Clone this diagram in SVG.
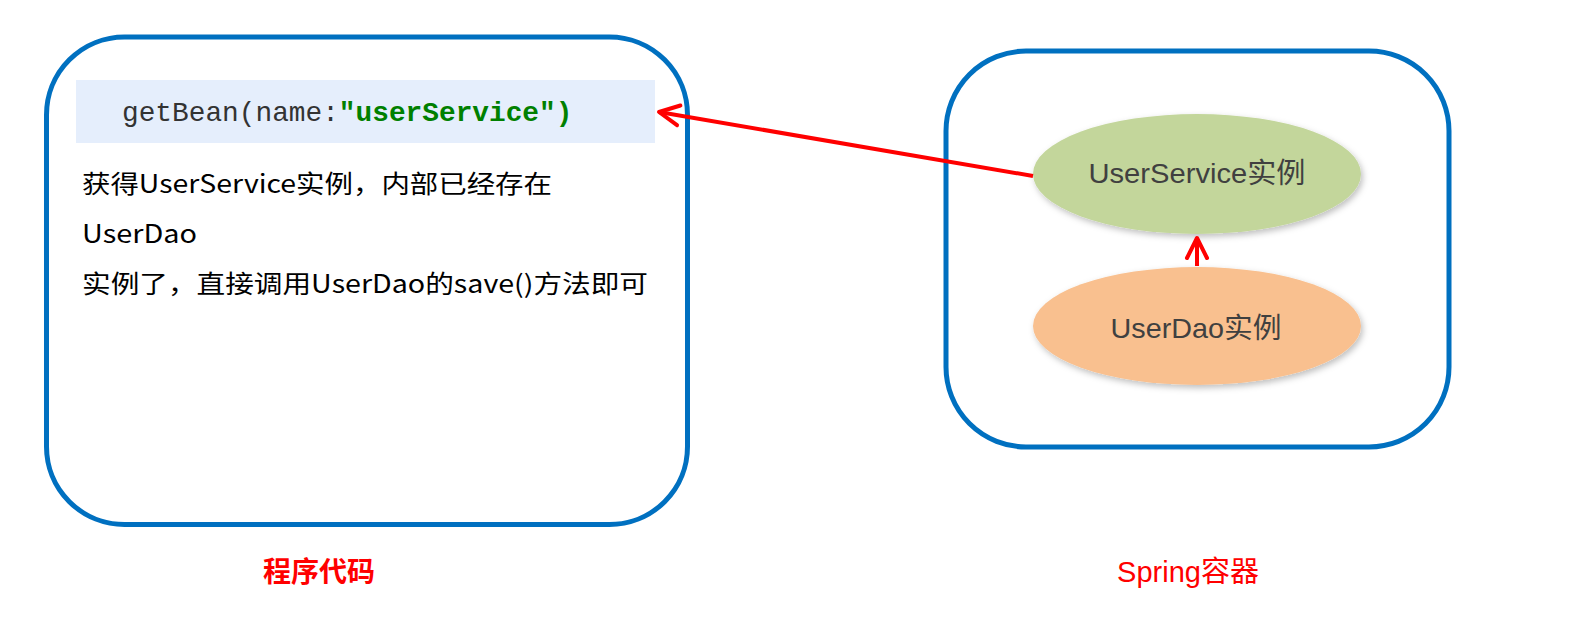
<svg xmlns="http://www.w3.org/2000/svg" width="1570" height="636" viewBox="0 0 1570 636">
<style>
.box{fill:#fff;stroke:#0070C0;stroke-width:5}
.conn{stroke:#FF0000;stroke-width:4;fill:none}
.body{font-family:"Noto Sans CJK SC","Liberation Sans",sans-serif;font-size:25px;fill:#000}
.code{font-family:"Liberation Mono",monospace;font-size:27.8px}
.lbl{font-family:"Liberation Sans","Noto Sans CJK SC",sans-serif;font-size:28.5px;fill:#404040;text-anchor:middle}
.cap{font-family:"Liberation Sans","Noto Sans CJK SC",sans-serif;fill:#FF0000;text-anchor:middle}
</style>
<defs>
<marker id="arrow" viewBox="-24 -13 28 26" markerWidth="28" markerHeight="26" refX="0" refY="0" orient="auto" markerUnits="userSpaceOnUse">
<path d="M-20,-10 L0,0 L-20,10" fill="none" stroke="#FF0000" stroke-width="4" stroke-linecap="round" stroke-linejoin="round"/>
</marker>
<filter id="sh" x="-10%" y="-10%" width="125%" height="135%">
<feDropShadow dx="2" dy="3" stdDeviation="3" flood-color="#000" flood-opacity="0.25"/>
</filter>
</defs>
<g id="code-box">
<rect class="box" x="46.5" y="37" width="641" height="487.5" rx="78" ry="78"/>
<rect x="76" y="80" width="579" height="63" fill="#E5EEFC"/>
<text class="code" x="122" y="121"><tspan fill="#333333">getBean(name:</tspan><tspan fill="#008000" font-weight="bold">"userService")</tspan></text>
<text class="body" x="82" y="193" textLength="470" lengthAdjust="spacingAndGlyphs">获得UserService实例，内部已经存在</text>
<text class="body" x="82" y="243" textLength="115" lengthAdjust="spacingAndGlyphs">UserDao</text>
<text class="body" x="82" y="293" textLength="566" lengthAdjust="spacingAndGlyphs">实例了，直接调用UserDao的save()方法即可</text>
</g>
<g id="spring-box">
<rect class="box" x="946" y="51" width="503" height="396" rx="80" ry="80"/>
</g>
<g id="userservice">
<ellipse cx="1197" cy="174" rx="164" ry="60" fill="#C3D69B" filter="url(#sh)"/>
<text class="lbl" x="1197" y="183" textLength="217" lengthAdjust="spacingAndGlyphs">UserService实例</text>
</g>
<g id="userdao">
<ellipse cx="1197" cy="326" rx="164" ry="59" fill="#F9C08F" filter="url(#sh)"/>
<text class="lbl" x="1196" y="338" textLength="171" lengthAdjust="spacingAndGlyphs">UserDao实例</text>
</g>
<g id="connectors">
<line class="conn" x1="1033" y1="176" x2="659" y2="112" marker-end="url(#arrow)"/>
<line class="conn" x1="1197" y1="266" x2="1197" y2="238" marker-end="url(#arrow)"/>
</g>
<g id="captions">
<text class="cap" x="319" y="582" font-size="28" font-weight="bold">程序代码</text>
<text class="cap" x="1188" y="582" font-size="29">Spring容器</text>
</g>
</svg>
